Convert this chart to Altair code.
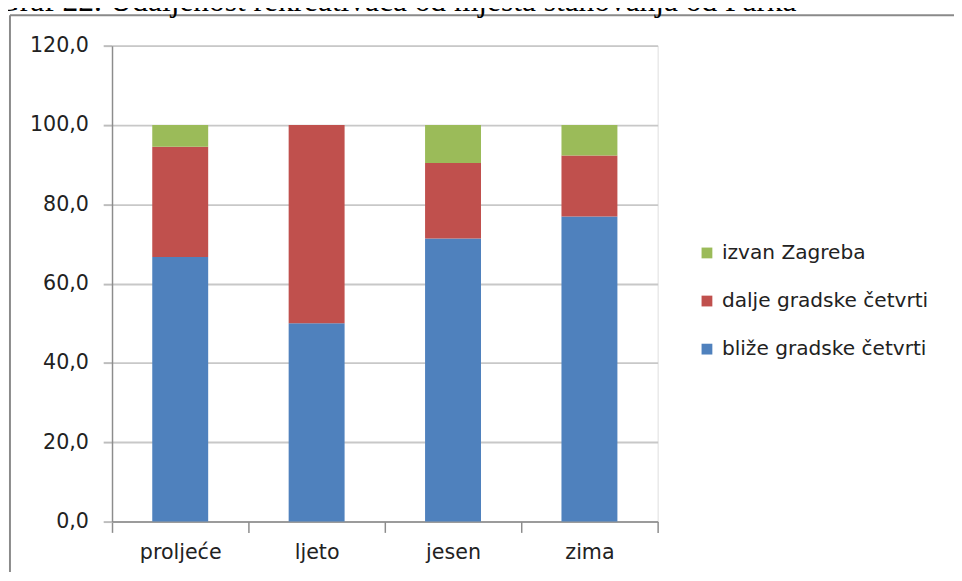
import altair as alt
import pandas as pd

seasons = ["proljeće", "ljeto", "jesen", "zima"]
series = ["izvan Zagreba", "dalje gradske četvrti", "bliže gradske četvrti"]
blize = [66.7, 50.0, 71.4, 76.9]
dalje = [27.8, 50.0, 19.0, 15.4]
izvan = [5.5, 0.0, 9.6, 7.7]
colors = ["#9BBB59", "#C0504D", "#4F81BD"]
y_ticks = [0, 20, 40, 60, 80, 100, 120]
title_text = "Graf 22. Udaljenost rekreativaca od mjesta stanovanja od Parka"

rows = []
for i, s in enumerate(seasons):
    rows.append({"sezona": s, "skupina": series[2], "vrijednost": blize[i], "red": 0})
    rows.append({"sezona": s, "skupina": series[1], "vrijednost": dalje[i], "red": 1})
    rows.append({"sezona": s, "skupina": series[0], "vrijednost": izvan[i], "red": 2})
df = pd.DataFrame(rows)

W, H = 556, 485

bars = alt.Chart(df).mark_bar(size=57).encode(
    x=alt.X("sezona:N", sort=seasons, title=None,
            scale=alt.Scale(paddingInner=0, paddingOuter=0),
            axis=alt.Axis(labelAngle=0, labelFont="DejaVu Sans", labelFontSize=21,
                          labelColor="#222", labelPadding=10, tickSize=11,
                          tickBand="extent", domainColor="#8c8c8c", tickColor="#8c8c8c",
                          domainWidth=1.5, tickWidth=1.5, grid=False)),
    y=alt.Y("vrijednost:Q", stack="zero", title=None,
            scale=alt.Scale(domain=[0, 120], nice=False),
            axis=alt.Axis(values=y_ticks, labelExpr="replace(format(datum.value, '.1f'), '.', ',')",
                          labelFont="DejaVu Sans", labelFontSize=21, labelColor="#222",
                          labelPadding=15, tickSize=9, tickColor="#bdbdbd", tickWidth=2,
                          domainColor="#8c8c8c", domainWidth=1.5,
                          grid=True, gridColor="#c8c8c8", gridWidth=2)),
    color=alt.Color("skupina:N", scale=alt.Scale(domain=series, range=colors),
                    legend=alt.Legend(title=None, orient="none", legendX=596, legendY=201,
                                      symbolType="square", symbolSize=121,
                                      symbolStrokeWidth=0, labelFont="DejaVu Sans",
                                      labelFontSize=20.5, labelColor="#222", labelLimit=0,
                                      rowPadding=28, labelOffset=5, padding=0)),
    order=alt.Order("red:Q", sort="ascending"),
)

one = pd.DataFrame({"t": [title_text]})
frame_top = alt.Chart(one).mark_rule(stroke="#8a8a8a", strokeWidth=2).encode(
    x=alt.value(-104), x2=alt.value(1500), y=alt.value(-31))
frame_left = alt.Chart(one).mark_rule(stroke="#8a8a8a", strokeWidth=2).encode(
    x=alt.value(-104), y=alt.value(-31), y2=alt.value(1500))
title = alt.Chart(one).mark_text(font="Liberation Serif", fontSize=32, align="left",
                                 baseline="alphabetic", color="#000").encode(
    x=alt.value(-117), y=alt.value(-35), text="t:N")

chart = alt.layer(frame_top, frame_left, bars, title).properties(
    width=W, height=H,
    autosize=alt.AutoSizeParams(type="none"),
    padding={"left": 106, "top": 33, "right": 302, "bottom": 46},
).configure_view(stroke=None).configure(background="white")

chart.save("out.html", embed_options={"renderer": "svg", "actions": False})
